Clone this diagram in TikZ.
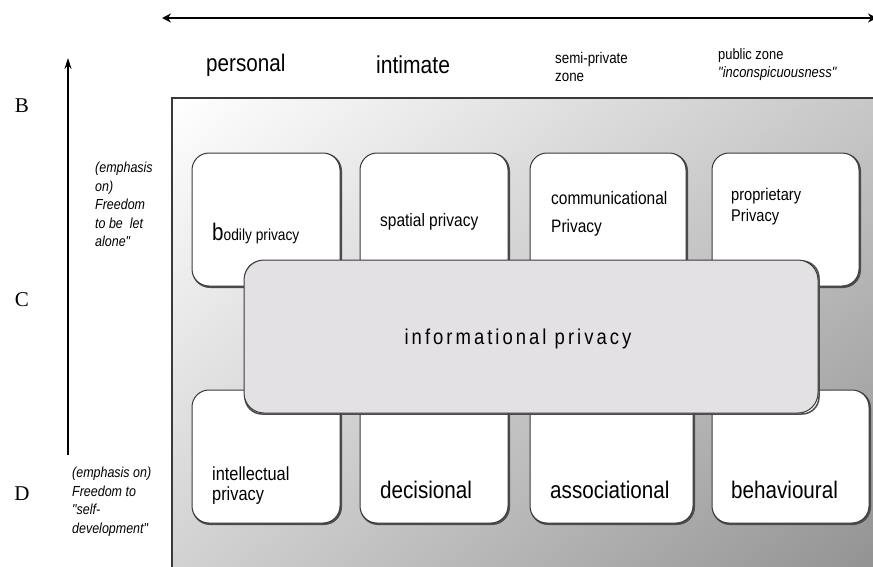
\documentclass[tikz,border=0pt]{standalone}
\usepackage{fontspec}
\setmainfont{Liberation Serif}
\newfontfamily\nar[FakeStretch=0.86]{Liberation Sans}
\usetikzlibrary{arrows.meta,shadings}
\definecolor{boxedge}{HTML}{3A3A3A}
\definecolor{infofill}{HTML}{E3E1E3}
\tikzset{
  px/.style={x=1pt,y=-1pt},
  pbox/.style={draw=boxedge,line width=1pt,rounded corners=17pt,fill=white},
  sh/.style={draw=black!70,line width=2pt,rounded corners=17pt},
  lbl/.style={font=\nar,anchor=west,inner sep=0pt,align=left},
  zone/.style={font=\nar,anchor=west,inner sep=0pt,align=left},
  side/.style={font=\nar\itshape\fontsize{14.5}{18.5}\selectfont,anchor=north west,inner sep=0pt,align=left},
  letter/.style={font=\fontsize{21}{21}\selectfont,inner sep=0pt},
}
\begin{document}
\begin{tikzpicture}[px]
\useasboundingbox (0,0) rectangle (873,566);
\clip (0,0) rectangle (873,566);
% background panel
\shade[upper left=white,upper right=black!22,lower left=black!18,lower right=black!43]
  (172,98) rectangle (880,575);
\draw[boxedge,line width=1.2pt] (172,575) -- (172,98) -- (880,98);
% arrows
\coordinate (hl) at (162,18);
\coordinate (hr) at (873,18);
\draw[line width=1.8pt,{Stealth[length=9pt,width=9pt]}-{Stealth[length=9pt,width=9pt]}] (hl) -- ([xshift=4pt]hr);
\coordinate (vb) at (68,455);
\coordinate (vt) at (68,58);
\draw[line width=1.2pt,-{Stealth[length=11pt,width=7pt]}] (vb) -- (vt);
% letters
\node[letter] (B) at (22,106) {B};
\node[letter] (C) at (22,300) {C};
\node[letter] (D) at (22,494) {D};
% zone headings
\node[zone,font=\nar\fontsize{24}{26}\selectfont] (zp) at (206,65) {personal};
\node[zone,font=\nar\fontsize{24.5}{26}\selectfont] (zi) at (376,65) {intimate};
\node[zone,font=\nar\fontsize{15.5}{18}\selectfont] (zs) at (555,67) {semi-private\\zone};
\node[zone,font=\nar\fontsize{15}{18}\selectfont] (zu) at (718,65) {public zone\\\textit{"inconspicuousness"}};
% side notes
\node[side] (sn1) at (95,162) {(emphasis\\on)\\Freedom\\to be\ \ let\\alone"};
\node[side] (sn2) at (72,467) {(emphasis on)\\Freedom to\\"self-\\development"};
% top row boxes
\foreach \n/\a/\b in {t1/192/340,t2/360/508,t3/530/686,t4/712/859}{
  \draw[sh] (\a+1,154) rectangle (\b+1,287);
  \draw[pbox] (\a,153) rectangle (\b,286);
}
% bottom row boxes
\foreach \n/\a/\b in {d1/192/340,d2/360/508,d3/530/693,d4/712/869}{
  \draw[sh] (\a+1,391) rectangle (\b+1,524);
  \draw[pbox] (\a,390) rectangle (\b,523);
}
% central box
\draw[sh,line width=1.5pt] (245,261) rectangle (819,414);
\draw[pbox,fill=infofill,rounded corners=20pt] (244,260) rectangle (818,413);
% labels
\node[lbl] (l1) at (212,233) {\fontsize{24}{24}\selectfont b\fontsize{16}{18}\selectfont odily privacy};
\node[lbl,font=\nar\fontsize{18}{20}\selectfont] (l2) at (380,222) {spatial privacy};
\node[lbl,font=\nar\fontsize{18}{28}\selectfont] (l3) at (551,214) {communicational\\Privacy};
\node[lbl,font=\nar\fontsize{17}{21}\selectfont] (l4) at (731,207) {proprietary\\Privacy};
\node[font=\nar\fontsize{21.5}{24}\selectfont,inner sep=0pt] (info) at (518,339) {\addfontfeature{LetterSpace=14}informational privacy};
\node[lbl,font=\nar\fontsize{19}{20}\selectfont] (b1) at (212,486) {intellectual\\privacy};
\node[lbl,font=\nar\fontsize{24}{26}\selectfont] (b2) at (380,490) {decisional};
\node[lbl,font=\nar\fontsize{24}{26}\selectfont] (b3) at (550,490) {associational};
\node[lbl,font=\nar\fontsize{24}{26}\selectfont] (b4) at (731,490) {behavioural};
\end{tikzpicture}
\end{document}
